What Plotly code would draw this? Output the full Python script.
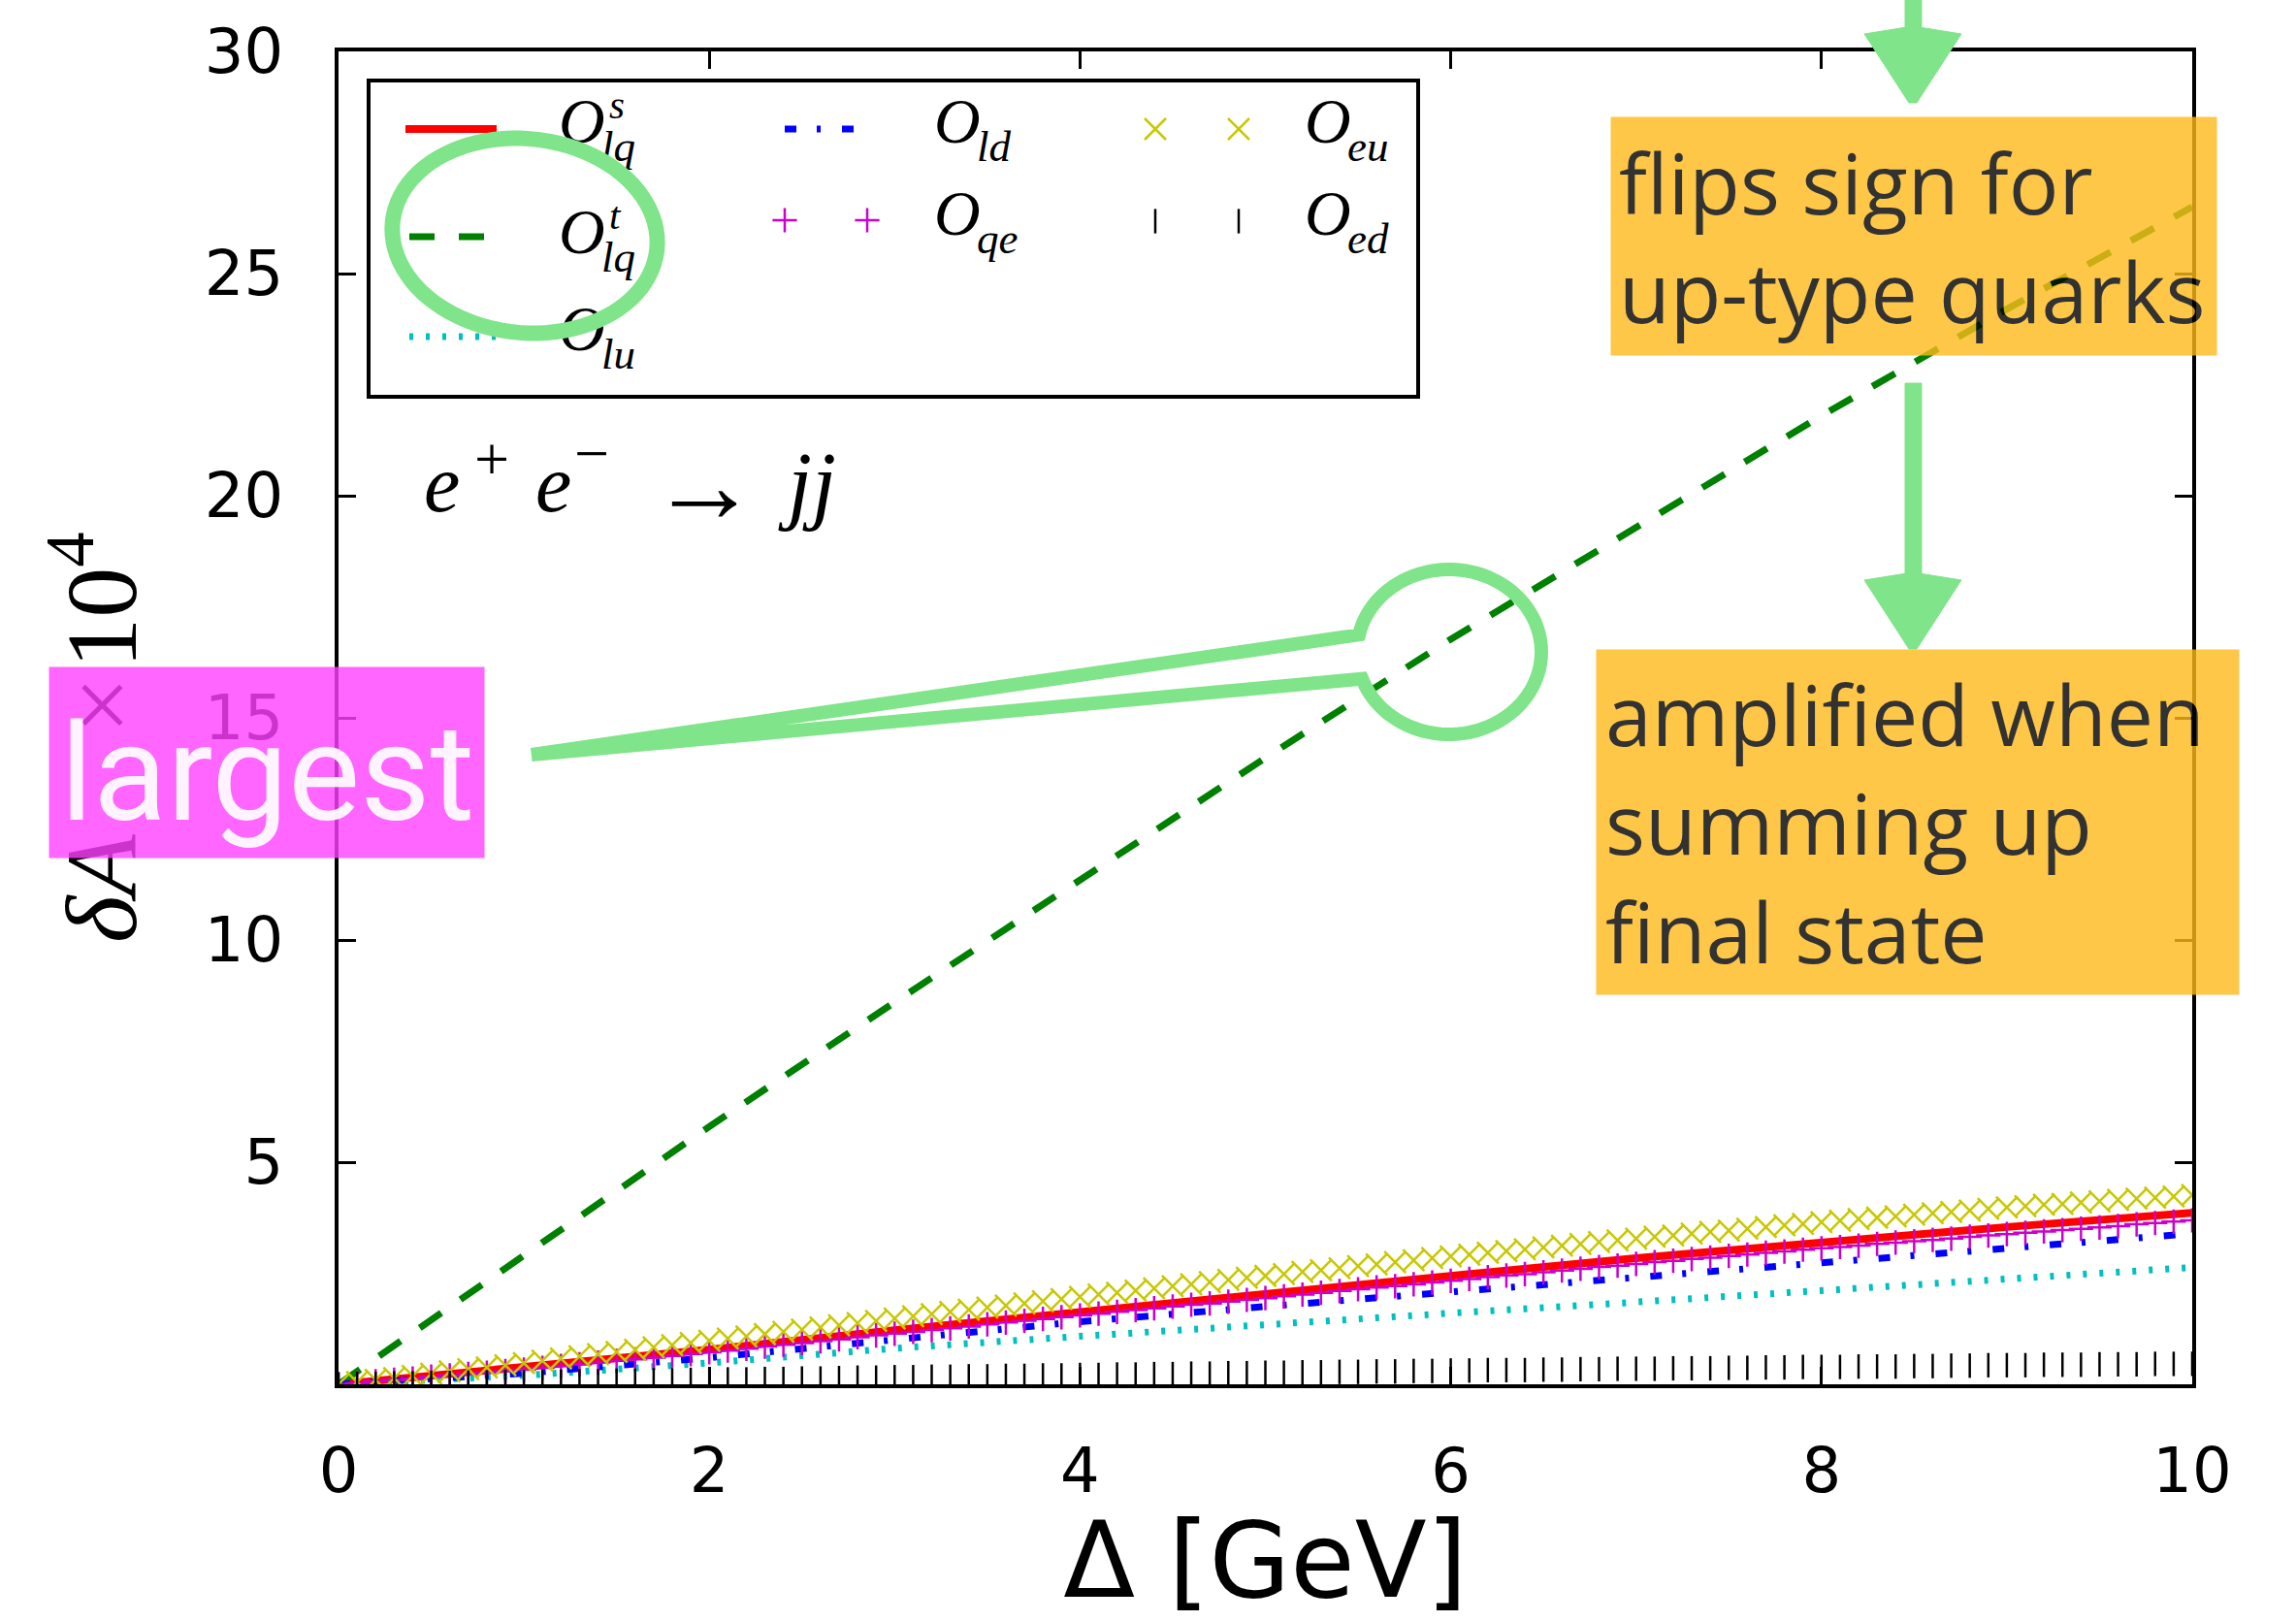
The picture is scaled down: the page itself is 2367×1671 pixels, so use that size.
import math
import plotly.graph_objects as go

# ---------------- data ----------------
delta_coarse = [0, 1, 2, 3, 4, 5, 6, 7, 8, 9, 10]
O_lq_s = [0, 0.37, 0.78, 1.22, 1.64, 2.04, 2.44, 2.84, 3.20, 3.54, 3.86]
O_lq_t = [0, 2.92, 5.80, 8.60, 11.35, 14.10, 16.77, 19.30, 21.80, 24.20, 26.50]
O_lu = [0, 0.20, 0.48, 0.81, 1.08, 1.35, 1.60, 1.85, 2.12, 2.38, 2.63]
O_ld = [0, 0.25, 0.60, 1.02, 1.41, 1.75, 2.08, 2.42, 2.76, 3.08, 3.39]

delta_fine = [0.0, 0.1, 0.2, 0.3, 0.4, 0.5, 0.6, 0.7, 0.8, 0.9,
              1.0, 1.1, 1.2, 1.3, 1.4, 1.5, 1.6, 1.7, 1.8, 1.9,
              2.0, 2.1, 2.2, 2.3, 2.4, 2.5, 2.6, 2.7, 2.8, 2.9,
              3.0, 3.1, 3.2, 3.3, 3.4, 3.5, 3.6, 3.7, 3.8, 3.9,
              4.0, 4.1, 4.2, 4.3, 4.4, 4.5, 4.6, 4.7, 4.8, 4.9,
              5.0, 5.1, 5.2, 5.3, 5.4, 5.5, 5.6, 5.7, 5.8, 5.9,
              6.0, 6.1, 6.2, 6.3, 6.4, 6.5, 6.6, 6.7, 6.8, 6.9,
              7.0, 7.1, 7.2, 7.3, 7.4, 7.5, 7.6, 7.7, 7.8, 7.9,
              8.0, 8.1, 8.2, 8.3, 8.4, 8.5, 8.6, 8.7, 8.8, 8.9,
              9.0, 9.1, 9.2, 9.3, 9.4, 9.5, 9.6, 9.7, 9.8, 9.9, 10.0]

O_qe = [0, 0.03, 0.07, 0.10, 0.13, 0.17, 0.20, 0.23, 0.26, 0.30,
        0.33, 0.37, 0.41, 0.45, 0.49, 0.53, 0.56, 0.60, 0.64, 0.68,
        0.72, 0.76, 0.80, 0.85, 0.89, 0.93, 0.97, 1.01, 1.06, 1.10,
        1.14, 1.18, 1.22, 1.26, 1.30, 1.35, 1.39, 1.43, 1.47, 1.51,
        1.55, 1.59, 1.63, 1.67, 1.71, 1.75, 1.79, 1.82, 1.86, 1.90,
        1.94, 1.98, 2.02, 2.06, 2.10, 2.14, 2.18, 2.21, 2.25, 2.29,
        2.33, 2.37, 2.41, 2.45, 2.48, 2.52, 2.56, 2.60, 2.64, 2.67,
        2.71, 2.75, 2.78, 2.82, 2.85, 2.89, 2.92, 2.96, 2.99, 3.03,
        3.06, 3.09, 3.12, 3.16, 3.19, 3.22, 3.25, 3.28, 3.32, 3.35,
        3.38, 3.41, 3.44, 3.47, 3.50, 3.53, 3.56, 3.60, 3.63, 3.66, 3.69]

O_eu = [0, 0.05, 0.10, 0.14, 0.19, 0.24, 0.29, 0.34, 0.38, 0.43,
        0.48, 0.53, 0.58, 0.63, 0.68, 0.73, 0.78, 0.83, 0.88, 0.93,
        0.98, 1.03, 1.08, 1.13, 1.18, 1.23, 1.28, 1.33, 1.38, 1.43,
        1.48, 1.53, 1.58, 1.63, 1.68, 1.73, 1.77, 1.82, 1.87, 1.92,
        1.97, 2.02, 2.06, 2.11, 2.16, 2.21, 2.25, 2.30, 2.35, 2.40,
        2.44, 2.48, 2.53, 2.57, 2.61, 2.66, 2.70, 2.75, 2.79, 2.84,
        2.88, 2.92, 2.96, 3.00, 3.04, 3.08, 3.12, 3.16, 3.20, 3.24,
        3.28, 3.32, 3.35, 3.39, 3.43, 3.46, 3.50, 3.54, 3.58, 3.61,
        3.65, 3.68, 3.72, 3.75, 3.78, 3.82, 3.85, 3.88, 3.91, 3.95,
        3.98, 4.01, 4.04, 4.06, 4.09, 4.12, 4.15, 4.18, 4.20, 4.23, 4.26]

O_ed = [0, 0.01, 0.01, 0.02, 0.02, 0.03, 0.03, 0.04, 0.04, 0.05,
        0.05, 0.06, 0.06, 0.07, 0.07, 0.08, 0.08, 0.09, 0.09, 0.10,
        0.10, 0.11, 0.11, 0.12, 0.12, 0.13, 0.13, 0.14, 0.15, 0.15,
        0.16, 0.16, 0.17, 0.17, 0.18, 0.18, 0.19, 0.19, 0.20, 0.20,
        0.21, 0.21, 0.22, 0.22, 0.23, 0.23, 0.24, 0.24, 0.25, 0.25,
        0.26, 0.26, 0.27, 0.27, 0.28, 0.28, 0.29, 0.29, 0.30, 0.30,
        0.31, 0.31, 0.32, 0.32, 0.32, 0.33, 0.33, 0.34, 0.34, 0.35,
        0.35, 0.35, 0.36, 0.36, 0.36, 0.37, 0.37, 0.38, 0.38, 0.39,
        0.39, 0.39, 0.40, 0.40, 0.40, 0.41, 0.41, 0.42, 0.42, 0.43,
        0.43, 0.43, 0.44, 0.44, 0.44, 0.45, 0.45, 0.45, 0.46, 0.46, 0.46]

x_ticks = [0, 2, 4, 6, 8, 10]
y_ticks = [5, 10, 15, 20, 25, 30]

# ---------------- geometry helpers ----------------
W, H = 2367, 1671
L, R, T, B = 349, 2260, 53, 1427


def px(x):
    return (x - L) / (R - L)


def py(y):
    return (B - y) / (B - T)


def path_from(pts, close=False):
    s = "M " + " L ".join(f"{px(x):.5f},{py(y):.5f}" for x, y in pts)
    return s + (" Z" if close else "")


def ellipse_pts(cx, cy, rx, ry, rot=0.0, t0=0.0, t1=360.0, n=90):
    r = math.radians(rot)
    out = []
    for i in range(n + 1):
        t = math.radians(t0 + (t1 - t0) * i / n)
        ex, ey = rx * math.cos(t), ry * math.sin(t)
        out.append((cx + ex * math.cos(r) - ey * math.sin(r),
                    cy + ex * math.sin(r) + ey * math.cos(r)))
    return out


RED, GREEN, CYAN, BLUE = "#FF0000", "#008000", "#00C0C0", "#0000FF"
MAG, YEL, BLK = "#CC00CC", "#C8C800", "#000000"
ANNO_GREEN = "#80E48A"
SERIF = "Liberation Serif"
SANS = "DejaVu Sans"
BOXFONT = "Open Sans"

fig = go.Figure()

# ---------------- data traces ----------------
fig.add_trace(go.Scatter(x=delta_coarse, y=O_lq_s, mode="lines", name="O_lq^s",
                         line=dict(color=RED, width=8)))
fig.add_trace(go.Scatter(x=delta_coarse, y=O_lq_t, mode="lines", name="O_lq^t",
                         line=dict(color=GREEN, width=7, dash="27px,24px")))
fig.add_trace(go.Scatter(x=delta_coarse, y=O_lu, mode="lines", name="O_lu",
                         line=dict(color=CYAN, width=7, dash="4px,13px")))
fig.add_trace(go.Scatter(x=delta_coarse, y=O_ld, mode="lines", name="O_ld",
                         line=dict(color=BLUE, width=7, dash="12px,21px,4px,22px")))
fig.add_trace(go.Scatter(x=delta_fine, y=O_qe, mode="markers", name="O_qe",
                         marker=dict(symbol="cross-thin", size=18, color=MAG,
                                     line=dict(color=MAG, width=2.5))))
fig.add_trace(go.Scatter(x=delta_fine, y=O_eu, mode="markers", name="O_eu",
                         marker=dict(symbol="x-thin", size=22, color=YEL,
                                     line=dict(color=YEL, width=2.5))))
fig.add_trace(go.Scatter(x=delta_fine, y=O_ed, mode="markers", name="O_ed",
                         marker=dict(symbol="line-ns", size=18, color=BLK,
                                     line=dict(color=BLK, width=2.5))))

# ---------------- hand-made key (pixel coordinates on an overlay axis) ----------------
ov = dict(xaxis="x2", yaxis="y2", showlegend=False, hoverinfo="skip")
fig.add_trace(go.Scatter(x=[418, 512], y=[133, 133], mode="lines",
                         line=dict(color=RED, width=8), **ov))
fig.add_trace(go.Scatter(x=[422, 512], y=[244, 244], mode="lines",
                         line=dict(color=GREEN, width=7, dash="26px,25px"), **ov))
fig.add_trace(go.Scatter(x=[422, 512], y=[347, 347], mode="lines",
                         line=dict(color=CYAN, width=7, dash="4px,13px"), **ov))
fig.add_trace(go.Scatter(x=[809, 884], y=[133, 133], mode="lines",
                         line=dict(color=BLUE, width=7, dash="12px,21px,4px,22px"), **ov))
fig.add_trace(go.Scatter(x=[809, 894], y=[227, 227], mode="markers",
                         marker=dict(symbol="cross-thin", size=18, color=MAG,
                                     line=dict(color=MAG, width=2.5)), **ov))
fig.add_trace(go.Scatter(x=[1191, 1277], y=[133, 133], mode="markers",
                         marker=dict(symbol="x-thin", size=22, color=YEL,
                                     line=dict(color=YEL, width=2.5)), **ov))
fig.add_trace(go.Scatter(x=[1191, 1277], y=[228, 228], mode="markers",
                         marker=dict(symbol="line-ns", size=18, color=BLK,
                                     line=dict(color=BLK, width=2.5)), **ov))

key_O = [(576, 130), (576, 244), (576, 344), (963, 130), (963, 225), (1345, 130), (1345, 225)]
key_sub = ["lq", "lq", "lu", "ld", "qe", "eu", "ed"]
key_sup = ["s", "t", "", "", "", "", ""]
fig.add_trace(go.Scatter(x=[p[0] for p in key_O], y=[p[1] for p in key_O], mode="text",
                         text=["<i>O</i>"] * len(key_O), textposition="middle right",
                         textfont=dict(family=SERIF, size=66, color="black"), **ov))
fig.add_trace(go.Scatter(x=[p[0] + 44 for p in key_O], y=[p[1] + 25 for p in key_O], mode="text",
                         text=[f"<i>{s}</i>" for s in key_sub], textposition="middle right",
                         textfont=dict(family=SERIF, size=45, color="black"), **ov))
sup_pts = [(p, s) for p, s in zip(key_O, key_sup) if s]
fig.add_trace(go.Scatter(x=[p[0] + 52 for p, s in sup_pts], y=[p[1] - 18 for p, s in sup_pts],
                         mode="text", text=[f"<i>{s}</i>" for p, s in sup_pts],
                         textposition="middle right",
                         textfont=dict(family=SERIF, size=41, color="black"), **ov))

# ---------------- shapes ----------------
shapes = []
# key frame
shapes.append(dict(type="rect", xref="paper", yref="paper", x0=px(380), x1=px(1462),
                   y0=py(83), y1=py(409), line=dict(color="black", width=4),
                   fillcolor="rgba(0,0,0,0)", layer="above"))
# green ellipse around O_lq^t key entry
shapes.append(dict(type="path", xref="paper", yref="paper",
                   path=path_from(ellipse_pts(541, 243, 137, 100, rot=6), close=True),
                   line=dict(color=ANNO_GREEN, width=16), fillcolor="rgba(0,0,0,0)",
                   layer="above"))
# callout (magnifier) around the dashed curve
cx, cy, rx, ry = 1494, 672, 95, 85
tip = (548, 778)
arc = ellipse_pts(cx, cy, rx, ry, rot=0, t0=192, t1=521, n=90)
shapes.append(dict(type="path", xref="paper", yref="paper",
                   path=path_from([tip] + arc + [tip], close=True),
                   line=dict(color=ANNO_GREEN, width=14), fillcolor="rgba(0,0,0,0)",
                   layer="above"))
# hand drawn arrows
for (y_top, y_head, y_tip) in [(-10, 33, 106), (395, 596, 669)]:
    shapes.append(dict(type="path", xref="paper", yref="paper",
                       path=path_from([(1964, y_top), (1981, y_top), (1981, y_head + 4),
                                       (1964, y_head + 4)], close=True),
                       line=dict(color=ANNO_GREEN, width=1), fillcolor=ANNO_GREEN,
                       layer="above"))
    shapes.append(dict(type="path", xref="paper", yref="paper",
                       path=path_from([(1922, y_head + 2), (1972, y_head - 6), (2022, y_head + 2),
                                       (1976, y_tip), (1968, y_tip)], close=True),
                       line=dict(color=ANNO_GREEN, width=1), fillcolor=ANNO_GREEN,
                       layer="above"))

# ---------------- annotations ----------------
annos = []
# reaction label, composed piece by piece
for txt, xc, yc, size, anchor in [
        ("<i>e</i>", 435, 498, 84, "left"),
        ("+", 507, 474, 64, "center"),
        ("<i>e</i>", 550, 498, 84, "left"),
        ("\u2212", 610, 468, 64, "center"),
        ("\u2192", 726, 500, 112, "center"),
        ("<i>jj</i>", 800, 498, 90, "left")]:
    annos.append(dict(xref="paper", yref="paper", x=px(xc), y=py(yc), xanchor=anchor,
                      yanchor="middle", showarrow=False, text=txt,
                      font=dict(family=SERIF, size=size, color="black")))
# y axis title
annos.append(dict(xref="paper", yref="paper", x=px(96), y=py(760), xanchor="center",
                  yanchor="middle", showarrow=False, textangle=-90,
                  text="<i>\u03b4A</i>\u2003\u00d7\u200a10<sup>4</sup>",
                  font=dict(family=SERIF, size=104, color="black")))
# orange notes
annos.append(dict(xref="paper", yref="paper", x=px(1660), y=py(120), xanchor="left",
                  yanchor="top", text="flips sign for<br>up-type quarks", showarrow=False,
                  align="left", valign="middle", width=608, height=229, borderpad=8,
                  bgcolor="rgb(254,186,26)", opacity=0.8,
                  font=dict(family=BOXFONT, size=86, color="black")))
annos.append(dict(xref="paper", yref="paper", x=px(1645), y=py(669), xanchor="left",
                  yanchor="top", text="amplified when<br>summing up<br>final state",
                  showarrow=False, align="left", valign="middle", width=644, height=337,
                  borderpad=9, bgcolor="rgb(254,186,26)", opacity=0.8,
                  font=dict(family=BOXFONT, size=86, color="black")))
# magenta note: background and text
annos.append(dict(xref="paper", yref="paper", x=px(50), y=py(687), xanchor="left",
                  yanchor="top", text=" ", showarrow=False, width=440, height=188,
                  borderpad=4, bgcolor="rgb(255,64,255)", opacity=0.8,
                  font=dict(family="Roboto", size=20, color="white")))
annos.append(dict(xref="paper", yref="paper", x=px(275), y=py(797), xanchor="center",
                  yanchor="middle", text="largest", showarrow=False, opacity=0.92,
                  font=dict(family="Roboto", size=140, color="white")))

fig.update_layout(
    width=W, height=H,
    margin=dict(l=L, r=W - R, t=T, b=H - B),
    paper_bgcolor="white", plot_bgcolor="white",
    showlegend=False,
    shapes=shapes, annotations=annos,
    xaxis=dict(range=[0, 10], tickvals=x_ticks, ticktext=[str(v) for v in x_ticks],
               showline=True, linecolor="black", linewidth=4, mirror="ticks",
               ticks="inside", ticklen=18, tickwidth=2.5, tickcolor="black",
               showgrid=False, zeroline=False, ticklabelstandoff=30,
               tickfont=dict(family=SANS, size=64, color="black"),
               title=dict(text="\u0394 [GeV]", standoff=28,
                          font=dict(family=SANS, size=108, color="black"))),
    yaxis=dict(range=[0, 30], tickvals=y_ticks, ticktext=[str(v) for v in y_ticks],
               showline=True, linecolor="black", linewidth=4, mirror="ticks",
               ticks="inside", ticklen=18, tickwidth=2.5, tickcolor="black",
               showgrid=False, zeroline=False, ticklabelstandoff=40,
               tickfont=dict(family=SANS, size=64, color="black")),
    xaxis2=dict(overlaying="x", range=[L, R], visible=False),
    yaxis2=dict(overlaying="y", range=[B, T], visible=False),
)

fig.write_html("out.html")
